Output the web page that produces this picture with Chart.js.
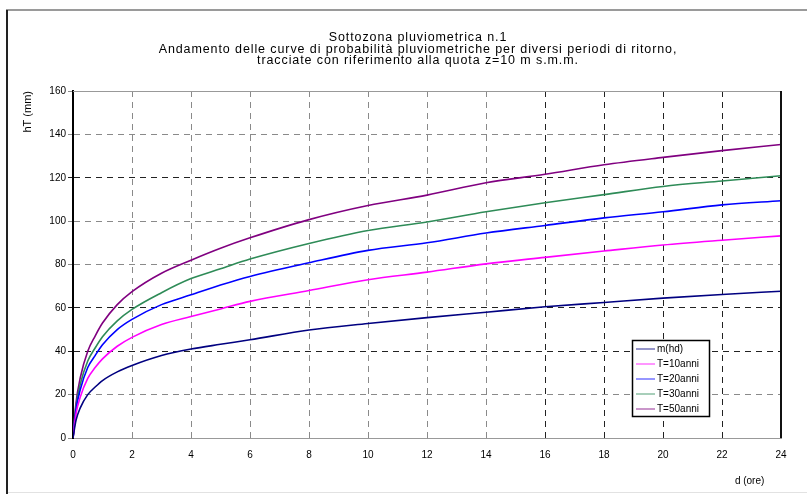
<!DOCTYPE html>
<html>
<head>
<meta charset="utf-8">
<script src="https://cdn.jsdelivr.net/npm/chart.js@4/dist/chart.umd.min.js"></script>
<style>
  html, body { margin: 0; padding: 0; background: #fff; overflow: hidden; }
  #wrap { position: absolute; left: 0; top: 0; width: 830px; height: 494px; }
</style>
</head>
<body>
<div id="wrap"><canvas id="c" width="830" height="494"></canvas></div>
<script>
// ---- data ----
const durations = [0, 0.1, 0.25, 0.5, 0.75, 1, 1.5, 2, 3, 4, 5, 6, 8, 10, 12, 14, 16, 18, 20, 22, 24];
const seriesMean = [0, 8, 14, 20, 23.5, 26.5, 30.5, 33.4, 38, 41, 43.2, 45.3, 49.8, 52.8, 55.5, 58, 60.5, 62.5, 64.5, 66.2, 67.7];
const seriesT10  = [0, 11, 19, 27.5, 32.5, 36.5, 42.3, 46.4, 52.3, 56, 59.5, 63, 68, 73, 76.5, 80.3, 83.3, 86.2, 89, 91.2, 93.2];
const seriesT20  = [0, 13, 22.5, 32.5, 38, 43, 50, 54.7, 61.5, 66, 70.5, 74.5, 80.8, 86.5, 90, 94.5, 98, 101.5, 104.3, 107.5, 109.4];
const seriesT30  = [0, 14.5, 25, 35.5, 41.5, 46.7, 54, 59.3, 67, 73.5, 78, 82.5, 89.7, 95.7, 99.6, 104.3, 108.5, 112.2, 116, 118.5, 120.9];
const seriesT50  = [0, 16, 28, 40, 47, 53, 61.5, 67.5, 76, 82, 87.5, 92.3, 100.7, 107.2, 112, 117.7, 121.6, 126, 129.4, 132.5, 135.3];
const seriesLabels = ["m(hd)", "T=10anni", "T=20anni", "T=30anni", "T=50anni"];
const seriesColors = ["#000080", "#ff00ff", "#0000ff", "#2e8b57", "#800080"];
const titleLines = [
  "Sottozona pluviometrica n.1",
  "Andamento delle curve di probabilità pluviometriche per diversi periodi di ritorno,",
  "tracciate con riferimento alla quota z=10 m s.m.m."
];
const xTitle = "d (ore)";
const yTitle = "hT (mm)";
const xDarkTicks = [16, 18, 20, 22];
const yDarkTicks = [40, 60, 120];

const allSeries = [seriesMean, seriesT10, seriesT20, seriesT30, seriesT50];
const FONT = "'Liberation Sans', Arial, sans-serif";

const datasets = allSeries.map((vals, i) => ({
  label: seriesLabels[i],
  data: durations.map((d, k) => ({ x: d, y: vals[k] })),
  borderColor: seriesColors[i],
  backgroundColor: seriesColors[i],
  borderWidth: 1.6,
  pointRadius: 0,
  cubicInterpolationMode: 'monotone',
  fill: false
}));

const framePlugin = {
  id: 'frames',
  beforeDraw(chart) {
    const ctx = chart.ctx;
    ctx.save();
    ctx.fillStyle = '#fff';
    ctx.fillRect(0, 0, chart.width, chart.height);
    ctx.strokeStyle = '#9a9a9a';
    ctx.lineWidth = 2;
    ctx.beginPath(); ctx.moveTo(6, 10); ctx.lineTo(chart.width, 10); ctx.stroke();
    ctx.strokeStyle = '#e2e2e2';
    ctx.lineWidth = 1;
    ctx.beginPath(); ctx.moveTo(6, 492.5); ctx.lineTo(chart.width, 492.5); ctx.stroke();
    ctx.strokeStyle = '#222';
    ctx.lineWidth = 2;
    ctx.beginPath(); ctx.moveTo(7, 10); ctx.lineTo(7, 494); ctx.stroke();
    ctx.restore();
  },
  afterDraw(chart) {
    const ctx = chart.ctx;
    const a = chart.chartArea;
    ctx.save();
    ctx.strokeStyle = '#999';
    ctx.lineWidth = 1;
    ctx.beginPath(); ctx.moveTo(a.left, a.top + 0.5); ctx.lineTo(a.right, a.top + 0.5); ctx.stroke();
    ctx.strokeStyle = '#111';
    ctx.lineWidth = 2;
    ctx.beginPath(); ctx.moveTo(a.right, a.top); ctx.lineTo(a.right, a.bottom); ctx.stroke();
    // legend box
    const lx = 632, ly = 340, lw = 77, lh = 76;
    ctx.fillStyle = '#fff';
    ctx.fillRect(lx, ly, lw, lh);
    ctx.strokeStyle = '#000';
    ctx.lineWidth = 1.5;
    ctx.strokeRect(lx + 0.5, ly + 0.5, lw, lh);
    chart.data.datasets.forEach((ds, i) => {
      const y = ly + 9 + i * 15;
      ctx.save();
      ctx.globalAlpha = 0.55;
      ctx.strokeStyle = ds.borderColor;
      ctx.lineWidth = 1.5;
      ctx.beginPath(); ctx.moveTo(lx + 4, y); ctx.lineTo(lx + 23, y); ctx.stroke();
      ctx.restore();
      ctx.fillStyle = '#000';
      ctx.font = '10px ' + FONT;
      ctx.textBaseline = 'middle';
      ctx.textAlign = 'left';
      ctx.fillText(ds.label, lx + 25, y);
    });
    ctx.restore();
  }
};

const chart = new Chart(document.getElementById('c'), {
  type: 'line',
  data: { datasets },
  options: {
    responsive: false,
    animation: false,
    layout: { padding: { left: 15, right: 9, top: 0, bottom: 0 } },
    plugins: {
      legend: { display: false },
      tooltip: { enabled: false },
      title: {
        display: true,
        text: titleLines,
        color: '#000',
        font: { family: FONT, size: 12.5, weight: 'normal', lineHeight: 0.92 },
        padding: { top: 32, bottom: 24.5 }
      }
    },
    scales: {
      x: {
        type: 'linear',
        min: 0, max: 24,
        afterFit(s) { s.height = 56; },
        ticks: { stepSize: 2, color: '#000', padding: 11, font: { family: FONT, size: 10 }, maxRotation: 0 },
        grid: {
          drawTicks: false,
          color: (c) => (c.tick && xDarkTicks.includes(c.tick.value)) ? '#222' : '#8a8a8a',
          lineWidth: 1
        },
        border: { display: true, color: '#999', width: 1, dash: [6, 5] },
        title: { display: true, text: xTitle + '      ', align: 'end', color: '#000', font: { family: FONT, size: 10 }, padding: { top: 0, bottom: 7 } }
      },
      y: {
        type: 'linear',
        min: 0, max: 160,
        afterFit(s) { s.width = 58; },
        ticks: { stepSize: 20, color: '#000', padding: 2, font: { family: FONT, size: 10 } },
        grid: {
          drawTicks: true, tickLength: 5,
          color: (c) => (c.tick && yDarkTicks.includes(c.tick.value)) ? '#222' : '#8a8a8a',
          lineWidth: 1
        },
        border: { display: true, color: '#000', width: 2, dash: [6, 5] },
        title: { display: true, text: yTitle, align: 'end', color: '#000', font: { family: FONT, size: 11 }, padding: { top: 6, bottom: 0 } }
      },
      y2: {
        type: 'linear',
        position: 'right',
        display: true,
        afterFit(s) { s.width = 40; },
        ticks: { display: false },
        grid: { display: false, drawTicks: false },
        border: { display: false }
      }
    }
  },
  plugins: [framePlugin]
});

// widen the title's letter spacing to match the reference
if (chart.titleBlock) {
  const tb = chart.titleBlock;
  const origDraw = tb.draw.bind(tb);
  tb.draw = function () {
    const ctx = chart.ctx;
    const prev = ctx.letterSpacing;
    ctx.letterSpacing = '0.9px';
    origDraw();
    ctx.letterSpacing = prev || '0px';
  };
  chart.update('none');
}
</script>
</body>
</html>
